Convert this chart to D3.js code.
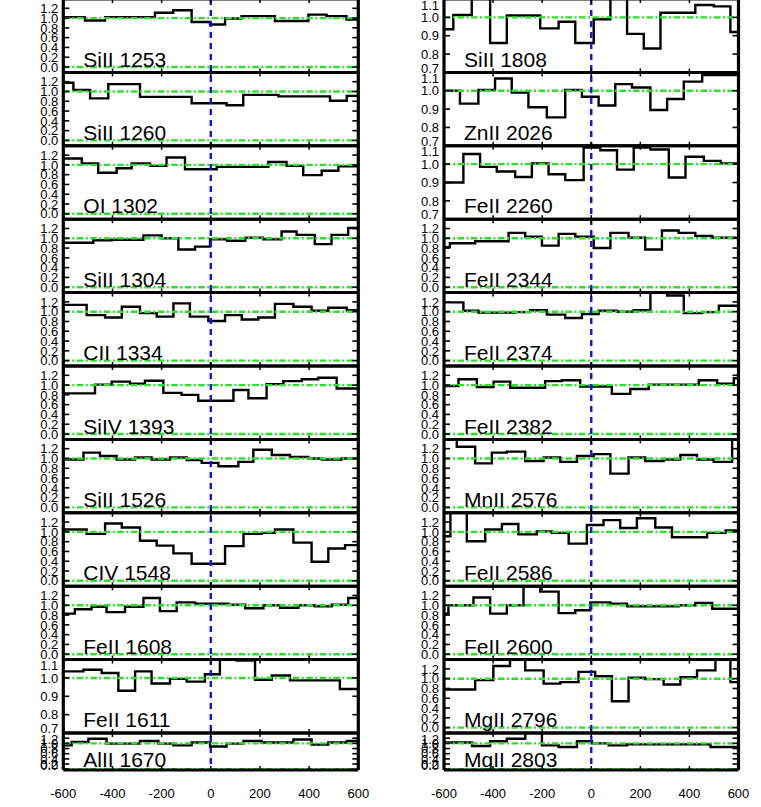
<!DOCTYPE html>
<html><head><meta charset="utf-8">
<script src="https://cdn.jsdelivr.net/npm/d3@7"></script>
<style>body{margin:0;background:#fff}svg{display:block;background:#fff}</style>
</head><body>
<svg id="c" width="761" height="807"></svg>
<script>
// ---------- data ----------
const xTicks = [-600, -400, -200, 0, 200, 400, 600];
const yTicksStd = [0.0, 0.2, 0.4, 0.6, 0.8, 1.0, 1.2];
const yTicksNarrow = [0.7, 0.8, 0.9, 1.0, 1.1];

const leftNames  = ["SiII 1253","SiII 1260","OI 1302","SiII 1304","CII 1334","SiIV 1393","SiII 1526","CIV 1548","FeII 1608","FeII 1611","AlII 1670"];
const rightNames = ["SiII 1808","ZnII 2026","FeII 2260","FeII 2344","FeII 2374","FeII 2382","MnII 2576","FeII 2586","FeII 2600","MgII 2796","MgII 2803"];
const narrowPanels = ["FeII 1611","SiII 1808","ZnII 2026","FeII 2260"];

// velocity (km/s) where each step begins, and normalised flux of that step
const v_SiII1253 = [-600,-512,-430,-227,-153,-78,-3,58,125,261,397,471,552];
const f_SiII1253 = [1.02,0.95,1.02,1.11,1.16,0.92,0.87,0.99,1.04,0.94,1.07,1.04,0.97];
const v_SiII1260 = [-600,-559,-491,-417,-288,-78,64,132,275,485,553];
const f_SiII1260 = [1.18,1.03,0.86,1.15,0.89,0.76,0.72,0.93,0.90,0.81,0.91];
const v_OI1302 = [-600,-525,-458,-383,-322,-247,-180,-105,24,234,308,376,451,519];
const f_OI1302 = [1.13,1.03,0.84,0.93,1.03,0.98,1.15,0.91,0.96,1.06,0.98,0.79,0.88,0.97];
const v_SiII1304 = [-600,-478,-403,-274,-200,-132,-64,-3,66,140,213,288,349,423,491,559];
const f_SiII1304 = [0.91,0.96,0.97,1.06,1.00,0.77,0.83,0.98,0.95,1.01,0.98,1.14,1.07,0.88,1.07,1.21];
const v_CII1334 = [-600,-505,-430,-362,-288,-220,-152,-85,-10,58,126,193,261,336,410,478,553];
const f_CII1334 = [1.14,0.93,0.88,1.10,0.97,0.90,1.17,0.90,0.81,0.93,0.84,0.88,1.16,1.10,1.02,1.08,1.03];
const v_SiIV1393 = [-600,-471,-403,-329,-268,-193,-119,-51,92,153,227,295,370,437,512];
const f_SiIV1393 = [0.83,1.01,1.07,1.03,1.09,0.84,0.80,0.68,0.90,0.73,1.02,1.08,1.12,1.15,0.93];
const v_SiII1526 = [-600,-518,-451,-383,-308,-241,-166,-98,-37,31,112,173,248,322,397,451,532];
const f_SiII1526 = [0.98,1.12,1.05,0.98,1.02,0.98,1.02,0.97,0.91,0.84,0.93,1.18,1.07,1.03,1.00,0.98,1.00];
const v_CIV1548 = [-600,-505,-430,-362,-288,-220,-152,-78,58,133,207,261,336,410,478,546];
const f_CIV1548 = [1.05,0.96,1.17,1.09,0.82,0.72,0.56,0.35,0.71,0.96,0.98,1.05,0.78,0.39,0.66,0.73];
const v_FeII1608 = [-600,-553,-485,-424,-349,-274,-207,-139,-64,71,140,214,282,356,424,492,559];
const f_FeII1608 = [0.83,0.92,0.97,0.86,0.97,1.15,0.88,1.06,1.03,1.01,0.94,1.00,0.95,1.00,0.98,1.01,1.15];
const v_FeII1611 = [-600,-518,-444,-376,-308,-241,-166,-98,-24,37,105,180,248,322,525];
const f_FeII1611 = [1.036,1.045,1.027,0.93,1.036,0.97,0.995,0.98,1.02,1.12,1.095,0.99,1.013,0.987,0.94];
const v_AlII1670 = [-600,-566,-498,-424,-288,-213,-152,-78,-3,64,133,207,336,410,478,553];
const f_AlII1670 = [0.92,1.05,1.18,0.99,1.09,0.99,0.92,1.03,0.88,0.99,1.09,1.03,1.15,0.95,1.03,1.09];

const v_SiII1808 = [-600,-562,-487,-412,-344,-208,-133,-65,10,78,146,214,282,424,499,567];
const f_SiII1808 = [0.935,1.013,1.13,0.86,1.01,0.94,0.976,0.86,0.99,1.15,0.91,0.83,1.025,1.067,1.06,0.92];
const v_ZnII2026 = [-600,-535,-460,-392,-324,-256,-181,-106,-38,30,98,166,241,309,377,452];
const f_ZnII2026 = [1.0,0.93,1.004,1.067,0.99,0.91,0.855,1.004,0.967,0.92,1.036,1.018,0.895,0.955,1.05,1.085];
const v_FeII2260 = [-600,-521,-453,-385,-310,-242,-174,-106,-31,37,105,173,241,316,384,459,527];
const f_FeII2260 = [0.90,1.055,0.985,0.96,0.93,1.004,0.945,0.913,1.09,1.076,0.97,1.09,1.08,0.927,1.04,1.018,1.004];
const v_FeII2344 = [-600,-576,-473,-337,-269,-201,-133,-65,10,78,152,220,288,356,424,493];
const f_FeII2344 = [0.82,0.90,0.94,1.11,1.03,0.85,1.09,1.03,0.80,1.11,1.01,0.77,1.16,1.11,1.05,1.01];
const v_FeII2374 = [-600,-521,-460,-310,-249,-181,-106,-38,30,105,173,241,309,377,452,520];
const f_FeII2374 = [1.19,1.02,0.98,0.99,1.03,0.94,0.87,0.95,1.02,1.00,1.03,1.45,1.33,0.97,0.99,1.12];
const v_FeII2382 = [-600,-541,-466,-398,-330,-188,-120,-45,84,159,234,438,513,581];
const f_FeII2382 = [0.98,1.12,0.96,1.07,0.945,1.08,1.10,0.97,0.82,0.92,1.01,1.10,1.03,1.14];
const v_MnII2576 = [-600,-548,-473,-405,-344,-269,-194,-126,-58,10,78,152,220,295,363,431,499,574];
const f_MnII2576 = [1.45,1.24,0.90,1.12,1.14,0.95,1.02,0.93,1.05,1.09,0.69,1.02,0.95,0.98,1.07,0.98,0.93,1.45];
const v_FeII2586 = [-600,-574,-507,-432,-364,-297,-222,-160,-92,-18,50,118,186,261,329,472,547];
const f_FeII2586 = [0.91,1.40,0.81,1.05,1.16,0.95,1.01,0.98,0.76,1.14,1.24,1.08,1.28,1.09,0.89,0.98,1.03];
const v_FeII2600 = [-600,-582,-480,-412,-344,-276,-208,-133,-65,-4,78,146,356,424,493];
const f_FeII2600 = [0.83,1.00,1.16,0.83,1.00,1.40,1.28,0.84,0.90,1.06,1.03,0.98,1.00,1.05,0.93];
const v_MgII2796 = [-600,-473,-399,-331,-269,-194,-126,-52,16,84,152,220,295,363,431,506,567];
const f_MgII2796 = [0.78,0.97,1.26,1.40,1.17,0.90,0.93,1.14,1.05,0.54,1.02,0.99,0.88,1.03,1.17,1.45,0.93];
const v_MgII2803 = [-600,-486,-412,-344,-269,-201,-133,-58,3,71,146,486];
const f_MgII2803 = [1.03,0.90,1.08,1.18,1.45,0.92,0.86,1.08,1.00,0.92,0.96,0.86];

const leftV  = [v_SiII1253,v_SiII1260,v_OI1302,v_SiII1304,v_CII1334,v_SiIV1393,v_SiII1526,v_CIV1548,v_FeII1608,v_FeII1611,v_AlII1670];
const leftF  = [f_SiII1253,f_SiII1260,f_OI1302,f_SiII1304,f_CII1334,f_SiIV1393,f_SiII1526,f_CIV1548,f_FeII1608,f_FeII1611,f_AlII1670];
const rightV = [v_SiII1808,v_ZnII2026,v_FeII2260,v_FeII2344,v_FeII2374,v_FeII2382,v_MnII2576,v_FeII2586,v_FeII2600,v_MgII2796,v_MgII2803];
const rightF = [f_SiII1808,f_ZnII2026,f_FeII2260,f_FeII2344,f_FeII2374,f_FeII2382,f_MnII2576,f_FeII2586,f_FeII2600,f_MgII2796,f_MgII2803];

// ---------- layout ----------
const svg = d3.select("#c");
const FONT = "'Liberation Sans', Arial, Helvetica, sans-serif";
const GREEN = "#2ee02e", BLUE = "#1414dc";
const colRanges = [[63.3, 358.3], [444, 738.5]];
const top0 = -1, ph = 73.4, shortH = 37;
const nRows = 11;

function box(row) {
  const y0 = top0 + row * ph;
  const h = row === nRows - 1 ? shortH : ph;
  return [y0, y0 + h];
}

const columns = [
  {names: leftNames, V: leftV, F: leftF},
  {names: rightNames, V: rightV, F: rightF}
];

const lineGen = d3.line().curve(d3.curveStepAfter);
const defs = svg.append("defs");
const layerData = svg.append("g");
const layerBlue = svg.append("g");
const layerFrame = svg.append("g");
const layerText = svg.append("g");

columns.forEach((col, ci) => {
  const x = d3.scaleLinear().domain([-600, 600]).range(colRanges[ci]);
  const [x0, x1] = colRanges[ci];

  col.names.forEach((name, r) => {
    const [y0, y1] = box(r);
    const narrow = narrowPanels.includes(name);
    const short = r === nRows - 1;
    const dom = narrow ? [0.7, 1.1] : (short ? [-0.03, 1.40] : [-0.11, 1.39]);
    const y = d3.scaleLinear().domain(dom).range([y1, y0]);
    const clipId = `clip${ci}_${r}`;
    defs.append("clipPath").attr("id", clipId)
      .append("rect").attr("x", x0).attr("y", y0).attr("width", x1 - x0).attr("height", y1 - y0);
    const gc = layerData.append("g").attr("clip-path", `url(#${clipId})`);

    // spectrum as histogram steps
    const V = col.V[r], F = col.F[r];
    const pts = V.map((v, i) => [x(v), y(F[i])]);
    pts.push([x(600), y(F[F.length - 1])]);
    gc.append("path").attr("d", lineGen(pts))
      .attr("fill", "none").attr("stroke", "#000").attr("stroke-width", 2.4)
      .attr("stroke-linejoin", "miter");

    // green reference lines
    const refs = narrow ? [1.0] : [0.0, 1.0];
    refs.forEach(rv => {
      gc.append("line").attr("x1", x0).attr("x2", x1).attr("y1", y(rv)).attr("y2", y(rv))
        .attr("stroke", GREEN).attr("stroke-width", 2.4).attr("stroke-dasharray", "6.5,2.5,2,2.5");
    });

    const g = layerFrame.append("g");
    // y ticks + labels
    const yt = narrow ? yTicksNarrow : yTicksStd;
    yt.forEach(t => {
      const yy = y(t);
      g.append("line").attr("x1", x0).attr("x2", x0 + 6).attr("y1", yy).attr("y2", yy)
        .attr("stroke", "#000").attr("stroke-width", 1.6);
      g.append("line").attr("x1", x1 - 6).attr("x2", x1).attr("y1", yy).attr("y2", yy)
        .attr("stroke", "#000").attr("stroke-width", 1.6);
      const ly = Math.max(y0 + 6, Math.min(y1 - 4.5, yy));
      layerText.append("text").attr("x", x0 - 5).attr("y", ly).attr("dy", "0.36em")
        .attr("text-anchor", "end").attr("font-family", FONT).attr("font-size", 13)
        .attr("fill", "#000").text(t.toFixed(1));
    });

    // x ticks on top and bottom of each panel
    xTicks.slice(1, -1).forEach(t => {
      const xx = x(t);
      g.append("line").attr("x1", xx).attr("x2", xx).attr("y1", y1).attr("y2", y1 - 4)
        .attr("stroke", "#000").attr("stroke-width", 1.5);
      g.append("line").attr("x1", xx).attr("x2", xx).attr("y1", y0).attr("y2", y0 + 4)
        .attr("stroke", "#000").attr("stroke-width", 1.5);
    });

    // horizontal frame lines
    [y0, y1].forEach(yy => {
      g.append("line").attr("x1", x0).attr("x2", x1).attr("y1", yy).attr("y2", yy)
        .attr("stroke", "#000").attr("stroke-width", 3);
    });

    // label
    layerText.append("text").attr("x", x0 + 20).attr("y", y1 - 0.08 * (y1 - y0))
      .attr("font-family", FONT).attr("font-size", 21).attr("fill", "#000").text(name);
  });

  const yTop = box(0)[0], yBot = box(nRows - 1)[1];
  // vertical frame lines
  [x0, x1].forEach(xx => {
    layerFrame.append("line").attr("x1", xx).attr("x2", xx).attr("y1", yTop).attr("y2", yBot)
      .attr("stroke", "#000").attr("stroke-width", 3.2);
  });
  // zero-velocity dashed line
  layerBlue.append("line").attr("x1", x(0)).attr("x2", x(0)).attr("y1", yTop).attr("y2", yBot)
    .attr("stroke", BLUE).attr("stroke-width", 2.4).attr("stroke-dasharray", "6,5");

  // bottom axis labels
  xTicks.forEach(t => {
    layerText.append("text").attr("x", x(t)).attr("y", 797.5).attr("text-anchor", "middle")
      .attr("font-family", FONT).attr("font-size", 13).attr("fill", "#000").text(t);
  });
});
</script>
</body></html>
